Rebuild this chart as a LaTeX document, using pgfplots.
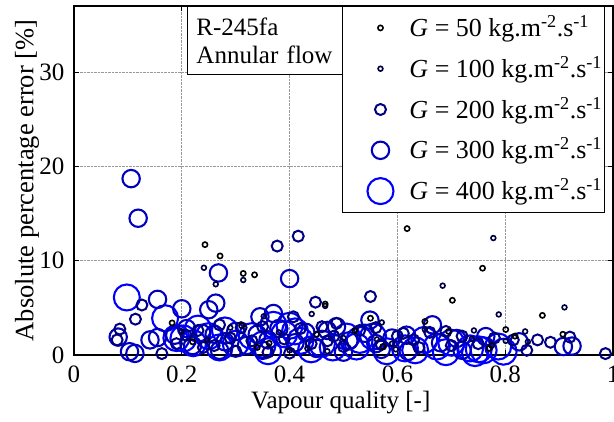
\documentclass[border=0pt]{standalone}
\usepackage{pgfplots}
\pgfplotsset{compat=1.18}
\usepackage{fontspec}
\setmainfont{Liberation Serif}
\definecolor{g50}{rgb}{0,0,0}
\definecolor{g100}{rgb}{0,0,0.25}
\definecolor{g200}{rgb}{0,0,0.5}
\definecolor{g300}{rgb}{0,0,0.75}
\definecolor{g400}{rgb}{0,0,1}
\newcommand{\legtxt}[1]{\textit{G} = #1 kg.m\textsuperscript{-2}.s\textsuperscript{-1}\hspace{24pt}}
\begin{document}
\fontsize{25}{28}\selectfont
\begin{tikzpicture}
\useasboundingbox (-74pt,-66pt) rectangle (540pt,355pt);
\begin{axis}[
  at={(0pt,0pt)}, anchor=south west,
  scale only axis, width=539pt, height=349pt,
  xmin=0, xmax=1, ymin=0, ymax=37,
  xtick={0,0.2,0.4,0.6,0.8,1}, xticklabels={0,0.2,0.4,0.6,0.8,1},
  ytick={0,10,20,30}, yticklabels={0,10,20,30},
  /pgf/number format/assume math mode=true,
  tick align=inside, major tick length=5pt,
  tick style={black, line width=1pt},
  axis line style={line width=1.2pt},
  grid=major, grid style={densely dotted, gray!80, line width=0.8pt},
  xlabel={Vapour quality [-]}, ylabel={Absolute percentage error [\%]},
  xlabel style={at={(axis description cs:0.495,0)}, anchor=center, yshift=-48pt},
  ylabel style={at={(axis description cs:-0.087,0.5)}, anchor=center, rotate=0, font=\fontsize{26.5}{28}\selectfont},
  xticklabel style={yshift=-2pt},
  yticklabel style={xshift=-1pt},
  clip=false,
  reverse legend,
  legend cell align=left,
  legend image code/.code={\path[draw=none,fill=none] (-38pt,-20.4pt) rectangle (27pt,20.4pt); \draw[#1,overlay] plot coordinates {(0pt,0pt)};},
  legend style={at={(axis description cs:0.4972,1)}, anchor=north west, draw=black, line width=1pt, fill=white, inner xsep=0pt, inner ysep=1pt, row sep=0pt, font=\fontsize{26}{28}\selectfont},
]
\addplot[only marks, mark=o, mark size=13pt, line width=2.1pt, color=g400] table {
0.098 6.1
0.169 3.9
0.203 1.75
0.221 1.25
0.41 2.5
0.524 0.9
0.506 1.95
0.555 1.95
0.673 0.9
0.633 0.5
0.614 0.7
0.735 0.7
0.751 0.6
0.787 0.9
0.797 0.35
0.76 0.5
0.744 0.2
0.25 2.0
0.28 2.6
0.30 1.2
0.33 2.0
0.35 1.1
0.37 3.2
0.39 2.2
0.40 3.1
0.42 1.5
0.44 0.6
0.46 1.2
0.48 0.8
0.36 0.4
0.27 0.8
0.53 1.6
0.58 0.4
0.65 1.6
0.69 0.3
0.70 1.3
0.23 2.8
0.19 1.8
};
\addlegendentry{\legtxt{400}}
\addplot[only marks, mark=o, mark size=8.7pt, line width=2.1pt, color=g300] table {
0.106 18.7
0.119 14.5
0.268 8.7
0.400 8.1
0.155 5.9
0.082 1.9
0.103 0.35
0.113 0.17
0.141 1.6
0.200 4.9
0.250 4.8
0.263 5.5
0.549 3.7
0.665 3.2
0.617 2.1
0.487 3.0
0.710 1.75
0.764 1.95
0.826 1.4
0.908 0.9
0.924 0.95
0.187 2.1
0.209 2.8
0.237 2.3
0.155 1.85
0.345 4.05
0.370 4.4
0.22 1.0
0.26 2.2
0.28 1.4
0.30 2.5
0.32 1.0
0.34 2.2
0.36 1.6
0.38 2.8
0.41 1.3
0.43 2.4
0.45 0.7
0.47 2.6
0.51 1.5
0.54 2.3
0.57 0.6
0.59 1.8
0.62 0.4
0.68 1.3
0.72 0.5
0.27 0.5
0.35 0.5
0.50 0.3
0.56 1.2
};
\addlegendentry{\legtxt{300}}
\addplot[only marks, mark=o, mark size=5.5pt, line width=2pt, color=g200] table {
0.377 11.55
0.416 12.6
0.126 5.3
0.114 3.8
0.085 2.75
0.080 1.6
0.163 0.15
0.448 5.6
0.550 6.2
0.986 0.15
0.860 1.6
0.884 1.35
0.920 1.9
0.840 0.5
0.690 2.5
0.611 2.3
0.482 2.0
0.407 4.05
0.487 3.35
0.208 2.1
0.815 1.6
0.23 2.6
0.26 1.0
0.27 3.2
0.29 1.8
0.31 2.9
0.33 1.5
0.35 3.0
0.36 0.3
0.39 1.7
0.42 2.8
0.44 1.2
0.46 3.0
0.50 0.9
0.53 2.6
0.57 1.1
0.60 2.0
0.63 1.6
0.66 2.4
0.70 1.0
0.72 2.0
0.75 1.2
0.78 1.8
0.30 0.4
0.24 0.8
0.19 1.2
0.47 1.5
0.56 2.9
0.64 0.8
0.40 0.2
};
\addlegendentry{\legtxt{200}}
\addplot[only marks, mark=o, mark size=2.4pt, line width=1.6pt, color=g100] table {
0.241 9.25
0.263 7.5
0.314 7.95
0.466 5.2
0.441 4.35
0.352 4.1
0.778 12.4
0.684 7.35
0.788 4.3
0.910 5.05
0.571 3.45
0.742 2.6
0.837 2.5
0.801 1.5
0.842 1.4
0.738 1.7
0.651 2.7
0.433 0.7
0.247 1.6
0.400 0.5
0.562 1.65
0.597 0.6
0.29 2.9
0.50 1.8
0.38 2.4
0.20 2.5
0.59 1.2
0.47 0.4
};
\addlegendentry{\legtxt{100}}
\addplot[only marks, mark=o, mark size=2.6pt, line width=1.6pt, color=g50] table {
0.243 11.7
0.271 10.5
0.314 8.65
0.335 8.5
0.466 5.4
0.182 3.4
0.618 13.4
0.758 9.2
0.702 5.8
0.869 4.2
0.550 3.9
0.651 3.55
0.801 2.7
0.818 2.0
0.907 2.2
0.775 1.0
0.695 2.5
0.362 1.25
0.311 3.1
0.521 2.6
0.573 0.9
0.34 0.8
0.45 2.2
0.22 1.4
0.77 0.7
};
\addlegendentry{\legtxt{50}}
\node[draw=black, line width=1pt, fill=white, anchor=north west, minimum height=68pt, text width=137pt, inner xsep=9pt, align=left] at (axis description cs:0.2096,1) {R-245fa\\Annular flow};
\end{axis}
\end{tikzpicture}
\end{document}
